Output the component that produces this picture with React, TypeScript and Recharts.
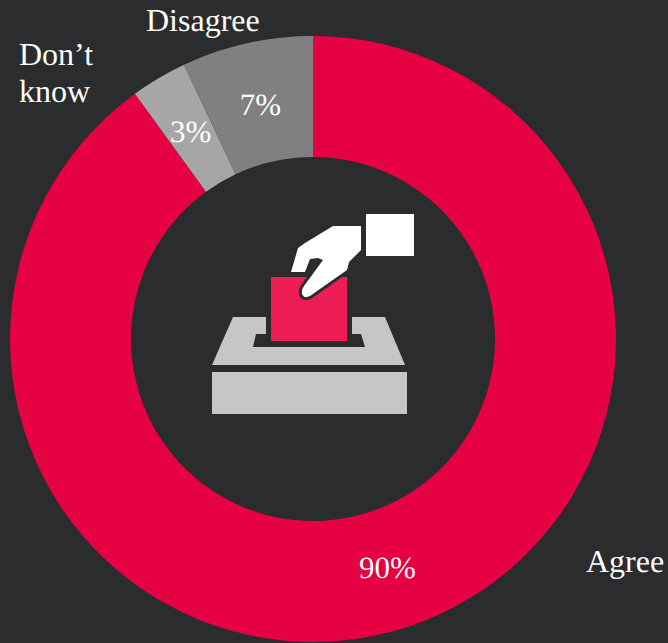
import React from 'react';
import { PieChart, Pie, Cell } from 'recharts';

const categories = ['Agree', "Don\u2019t know", 'Disagree'];
const shares = [90, 3, 7];
const sliceColors = ['#e60044', '#a6a6a6', '#808080'];

const data = categories.map((name, i) => ({ name, value: shares[i] }));

const BG = '#2a2c2e';
const SERIF = '"Liberation Serif", "Times New Roman", serif';
const RAD = Math.PI / 180;

// percentage sits in the middle of the ring at the slice's mid angle
const renderShare = (props: any) => {
  const { cx, cy, midAngle, innerRadius, outerRadius, value } = props;
  const r = (innerRadius + outerRadius) / 2 - 2;
  return (
    <text
      x={cx + r * Math.cos(-midAngle * RAD)}
      y={cy + r * Math.sin(-midAngle * RAD)}
      fill="#fff"
      fontFamily={SERIF}
      fontSize={31}
      textAnchor="middle"
      dominantBaseline="central"
      textRendering="geometricPrecision"
    >
      {value}%
    </text>
  );
};

const BallotIcon = () => (
  <g>
    <rect x={212} y={372} width={195} height={42} fill="#c6c6c4" />
    <polygon
      points="233,317 266,317 266,334 256,334 253,347 365,347 361,334 352,334 352,317 385,317 405,365 212,365"
      fill="#c6c6c4"
    />
    <rect x={271} y={277} width={76} height={64} fill="#ed1c55" />
    <rect x={366} y={214} width={48} height={42} fill="#fff" />
    {/* hand, dark outline separates the finger from the ballot */}
    <path
      d="M291 272 L298 248 L305 243 L333 226 L361 226 L361 250 L349 262 L347 270 L310 296 Q304 299 302 294 Q301 290 304 286 L323 260 L318 258 L310 259 L305 272 Z"
      fill="#fff"
      stroke={BG}
      strokeWidth={6}
      style={{ paintOrder: 'stroke' }}
    />
  </g>
);

export default function App() {
  return (
    <div style={{ position: 'fixed', left: 0, top: 0, width: 668, height: 643, background: BG, overflow: 'hidden' }}>
      <PieChart width={668} height={643} margin={{ top: 0, right: 0, bottom: 0, left: 0 }}>
        <Pie
          data={data}
          dataKey="value"
          nameKey="name"
          cx={313}
          cy={339}
          innerRadius={182}
          outerRadius={303}
          startAngle={90}
          endAngle={-270}
          stroke="none"
          label={renderShare}
          labelLine={false}
          isAnimationActive={false}
        >
          {data.map((entry, index) => (
            <Cell key={entry.name} fill={sliceColors[index]} />
          ))}
        </Pie>
        <BallotIcon />
        <g fill="#fff" fontFamily={SERIF} fontSize={32} textRendering="geometricPrecision">
          <text x={146} y={31}>Disagree</text>
          <text x={19} y={65}>Don’t</text>
          <text x={19} y={102}>know</text>
          <text x={586} y={572}>Agree</text>
        </g>
      </PieChart>
    </div>
  );
}
